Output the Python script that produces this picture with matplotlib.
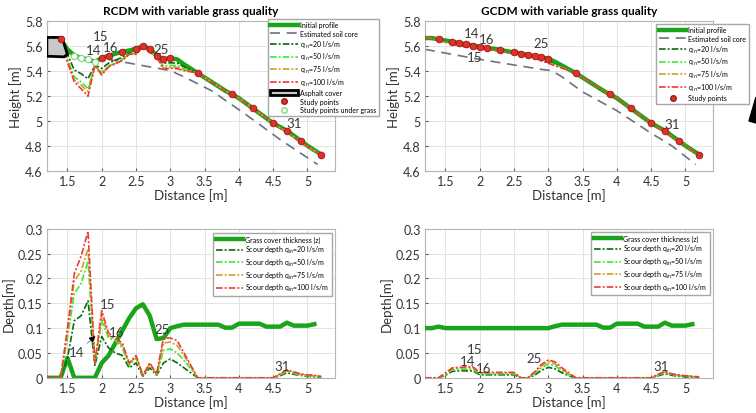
import numpy as np
import matplotlib.pyplot as plt
from matplotlib.patches import Patch, Polygon
from matplotlib.lines import Line2D
from matplotlib.ticker import FuncFormatter

plt.rcParams['font.family'] = ['Lato', 'DejaVu Sans']

# distance along the profile [m]
dist = [1.2, 1.3, 1.4, 1.5, 1.6, 1.7, 1.8, 1.9, 2.0, 2.1, 2.2, 2.3, 2.4, 2.5,
        2.6, 2.7, 2.8, 2.9, 3.0, 3.1, 3.2, 3.3, 3.4, 3.5, 3.6, 3.7, 3.8, 3.9,
        4.0, 4.1, 4.2, 4.3, 4.4, 4.5, 4.6, 4.7, 4.8, 4.9, 5.0, 5.1, 5.2]

# ---- RCDM ----
h0_rcdm = [5.665, 5.665, 5.65, 5.57, 5.52, 5.50, 5.49, 5.47, 5.50, 5.52, 5.535,
           5.55, 5.56, 5.575, 5.595, 5.575, 5.52, 5.49, 5.50, 5.49, 5.45, 5.415,
           5.38, 5.345, 5.31, 5.275, 5.24, 5.21, 5.18, 5.14, 5.10, 5.06, 5.02,
           4.98, 4.95, 4.92, 4.88, 4.84, 4.80, 4.765, 4.73]
grass_rcdm = [0, 0, 0, 0.04, 0, 0, 0, 0, 0.03, 0.045, 0.07, 0.095, 0.12, 0.14,
              0.148, 0.125, 0.078, 0.08, 0.10, 0.104, 0.107, 0.107, 0.107, 0.107,
              0.107, 0.107, 0.101, 0.101, 0.109, 0.109, 0.109, 0.109, 0.103,
              0.103, 0.103, 0.111, 0.105, 0.105, 0.105, 0.108, np.nan]
scour_rcdm_20 = [0, 0, 0, 0.04, 0.115, 0.125, 0.155, 0.025, 0.083, 0.06, 0.05,
                 0.045, 0.02, 0.03, 0.003, 0.02, 0.005, 0.03, 0.038, 0.03, 0.02,
                 0.01, 0, 0, 0, 0, 0, 0, 0, 0, 0, 0, 0, 0,
                 0.004, 0.01, 0.007, 0.005, 0.003, 0.002, 0.001]
scour_rcdm_50 = [0, 0, 0, 0.08, 0.17, 0.19, 0.235, 0.03, 0.115, 0.08, 0.075,
                 0.06, 0.025, 0.04, 0.004, 0.027, 0.006, 0.055, 0.058, 0.05,
                 0.035, 0.018, 0, 0, 0, 0, 0, 0, 0, 0, 0, 0, 0, 0,
                 0.006, 0.012, 0.009, 0.006, 0.004, 0.003, 0.002]
scour_rcdm_75 = [0, 0, 0, 0.09, 0.195, 0.215, 0.26, 0.03, 0.125, 0.085, 0.078,
                 0.065, 0.028, 0.043, 0.005, 0.028, 0.007, 0.07, 0.072, 0.065,
                 0.045, 0.022, 0, 0, 0, 0, 0, 0, 0, 0, 0, 0, 0, 0,
                 0.007, 0.014, 0.01, 0.007, 0.005, 0.004, 0.003]
scour_rcdm_100 = [0, 0, 0, 0.1, 0.21, 0.245, 0.295, 0.03, 0.135, 0.09, 0.08,
                  0.07, 0.03, 0.045, 0.005, 0.03, 0.008, 0.08, 0.08, 0.075,
                  0.05, 0.025, 0, 0, 0, 0, 0, 0, 0, 0, 0, 0, 0, 0,
                  0.008, 0.016, 0.012, 0.008, 0.006, 0.005, 0.003]
core_rcdm_x = [2.1, 2.8, 3.0, 3.2, 3.6, 4.1, 4.6, 5.15]
core_rcdm_y = [5.49, 5.42, 5.40, 5.35, 5.24, 5.05, 4.85, 4.65]
asphalt_x = [1.2, 1.42, 1.5, 1.45, 1.2]
asphalt_y = [5.665, 5.665, 5.53, 5.51, 5.515]
study_rcdm = [1.4, 2.0, 2.1, 2.3, 2.5, 2.6, 2.7, 2.8, 2.9, 3.0, 3.4, 3.9, 4.2,
              4.5, 4.7, 4.9, 5.2]
under_grass_rcdm = [1.6, 1.7, 1.8, 1.9]

# ---- GCDM ----
h0_gcdm = [5.66, 5.66, 5.65, 5.64, 5.63, 5.62, 5.61, 5.60, 5.59, 5.58, 5.575,
           5.565, 5.555, 5.545, 5.535, 5.525, 5.515, 5.505, 5.495, 5.47, 5.44,
           5.41, 5.38, 5.345, 5.31, 5.275, 5.24, 5.21, 5.18, 5.14, 5.10, 5.06,
           5.02, 4.98, 4.95, 4.92, 4.88, 4.84, 4.80, 4.765, 4.73]
grass_gcdm = [0.1, 0.1, 0.103, 0.1, 0.1, 0.1, 0.1, 0.1, 0.1, 0.1, 0.1, 0.1, 0.1,
              0.1, 0.1, 0.1, 0.1, 0.1, 0.1, 0.104, 0.107, 0.107, 0.107, 0.107,
              0.107, 0.107, 0.101, 0.101, 0.109, 0.109, 0.109, 0.109, 0.103,
              0.103, 0.103, 0.111, 0.105, 0.105, 0.105, 0.108, np.nan]
scour_gcdm_20 = [0, 0, 0, 0.005, 0.013, 0.014, 0.014, 0.014, 0.006, 0.006, 0.006,
                 0.006, 0.006, 0.006, 0, 0, 0.005, 0.015, 0.021, 0.018, 0.01,
                 0.004, 0, 0, 0, 0, 0, 0, 0, 0, 0, 0, 0, 0,
                 0.004, 0.008, 0.005, 0.003, 0.002, 0.001, 0]
scour_gcdm_50 = [0, 0, 0, 0.007, 0.016, 0.017, 0.017, 0.017, 0.008, 0.008, 0.008,
                 0.008, 0.008, 0.008, 0, 0, 0.008, 0.02, 0.028, 0.024, 0.014,
                 0.006, 0, 0, 0, 0, 0, 0, 0, 0, 0, 0, 0, 0,
                 0.005, 0.01, 0.006, 0.004, 0.003, 0.002, 0.001]
scour_gcdm_75 = [0, 0, 0, 0.009, 0.019, 0.02, 0.02, 0.02, 0.01, 0.01, 0.01,
                 0.01, 0.01, 0.01, 0, 0, 0.01, 0.024, 0.033, 0.028, 0.017,
                 0.008, 0, 0, 0, 0, 0, 0, 0, 0, 0, 0, 0, 0,
                 0.006, 0.012, 0.007, 0.005, 0.004, 0.003, 0.001]
scour_gcdm_100 = [0, 0, 0, 0.01, 0.02, 0.021, 0.022, 0.022, 0.011, 0.011, 0.011,
                  0.011, 0.011, 0.011, 0, 0, 0.012, 0.027, 0.036, 0.032, 0.02,
                  0.01, 0, 0, 0, 0, 0, 0, 0, 0, 0, 0, 0, 0,
                  0.007, 0.013, 0.008, 0.006, 0.004, 0.003, 0.002]
core_gcdm_x = [1.2, 1.8, 2.0, 2.5, 2.9, 3.05, 3.2, 3.5, 4.0, 4.5, 4.8, 5.15]
core_gcdm_y = [5.57, 5.51, 5.49, 5.445, 5.41, 5.40, 5.35, 5.23, 5.08, 4.90, 4.80, 4.65]
study_gcdm = [1.4, 1.6, 1.7, 1.8, 1.9, 2.0, 2.1, 2.3, 2.5, 2.6, 2.7, 2.8, 2.9,
              3.0, 3.4, 3.9, 4.2, 4.5, 4.7, 4.9, 5.2]

flows = [20, 50, 75, 100]
q_colors = ['#0b6b0b', '#3de83d', '#d0a020', '#f03a3a']
q_style = (0, (4, 1.2, 1.2, 1.2))
c_init = '#19a519'
c_core = '#6e7280'

x = np.array(dist)
fmt = FuncFormatter(lambda v, p: f'{v:g}')


def style(ax, ylim, yticks):
    ax.set_xlim(1.2, 5.4)
    ax.set_ylim(*ylim)
    ax.set_xticks([1.5, 2, 2.5, 3, 3.5, 4, 4.5, 5])
    ax.set_yticks(yticks)
    ax.xaxis.set_major_formatter(fmt)
    ax.yaxis.set_major_formatter(fmt)
    ax.grid(True, color='#e3e3e3', lw=0.7)
    ax.set_axisbelow(True)
    ax.tick_params(direction='in', length=2, labelsize=9, colors='#555555',
                   labelcolor='#333333', pad=3)
    for s in ax.spines.values():
        s.set_color('#b5b5b5')
        s.set_linewidth(0.8)
    ax.set_xlabel('Distance [m]', fontsize=9.5, color='#333333', labelpad=1)


def mark(ax, x0, y0, txt):
    ax.text(x0, y0, txt, fontsize=9.5, color='#3a3a3a', ha='center', va='center',
            zorder=8)


def profile_panel(ax, h0, scours, start, core_x, core_y, study, title):
    h0 = np.array(h0)
    ax.plot(x[start:], h0[start:], color=c_init, lw=3.2, zorder=3)
    ax.plot(core_x, core_y, color=c_core, lw=1.2, ls=(0, (6, 4)), zorder=2)
    for sc, col in zip(scours, q_colors):
        ax.plot(x[start:], (h0 - np.array(sc))[start:], color=col, lw=1.2,
                ls=q_style, zorder=4)
    sel = np.isin(x, study)
    ax.plot(x[sel], h0[sel], 'o', ms=4.8, color='#e0302a', mec='#a01818',
            mew=0.6, zorder=6)
    style(ax, (4.6, 5.8), [4.6, 4.8, 5, 5.2, 5.4, 5.6, 5.8])
    ax.set_ylabel('Height [m]', fontsize=9.5, color='#333333', labelpad=2)
    ax.set_title(title, fontsize=8.5, fontweight='bold', pad=5)


def depth_panel(ax, grass, scours):
    g = np.array(grass, dtype=float)
    ax.plot(x, g, color=c_init, lw=3.2, zorder=3)
    for sc, col in zip(scours, q_colors):
        ax.plot(x, sc, color=col, lw=1.2, ls=q_style, zorder=4)
    style(ax, (0, 0.3), [0, 0.05, 0.1, 0.15, 0.2, 0.25, 0.3])
    ax.set_ylabel('Depth[m]', fontsize=9.5, color='#333333', labelpad=2)


fig = plt.figure(figsize=(7.56, 4.14), dpi=100)
ax1 = fig.add_axes([0.062, 0.585, 0.381, 0.363])
ax2 = fig.add_axes([0.562, 0.585, 0.381, 0.363])
ax3 = fig.add_axes([0.062, 0.085, 0.381, 0.36])
ax4 = fig.add_axes([0.562, 0.085, 0.381, 0.36])

# RCDM height profile with the asphalt cover at the crest
profile_panel(ax1, h0_rcdm, [scour_rcdm_20, scour_rcdm_50, scour_rcdm_75,
              scour_rcdm_100], 2, core_rcdm_x, core_rcdm_y, study_rcdm,
              'RCDM with variable grass quality')
ax1.fill(asphalt_x, asphalt_y, facecolor='#c8c8c8', edgecolor='black', lw=2,
         zorder=5)
ug = np.isin(x, under_grass_rcdm)
ax1.plot(x[ug], np.array(h0_rcdm)[ug], 'o', ms=4.5, mfc='white', mec='#7ed87e',
         mew=0.8, zorder=6)
mark(ax1, 1.99, 5.68, '15')
mark(ax1, 1.88, 5.565, '14')
mark(ax1, 2.13, 5.59, '16')
mark(ax1, 2.87, 5.57, '25')
mark(ax1, 4.80, 4.98, '31')

# GCDM height profile
profile_panel(ax2, h0_gcdm, [scour_gcdm_20, scour_gcdm_50, scour_gcdm_75,
              scour_gcdm_100], 0, core_gcdm_x, core_gcdm_y, study_gcdm,
              'GCDM with variable grass quality')
mark(ax2, 1.88, 5.70, '14')
mark(ax2, 2.10, 5.65, '16')
mark(ax2, 1.93, 5.51, '15')
mark(ax2, 2.89, 5.62, '25')
mark(ax2, 4.80, 4.97, '31')

# scour depths against grass cover thickness
depth_panel(ax3, grass_rcdm, [scour_rcdm_20, scour_rcdm_50, scour_rcdm_75,
            scour_rcdm_100])
mark(ax3, 2.09, 0.149, '15')
mark(ax3, 2.21, 0.093, '16')
mark(ax3, 2.88, 0.099, '25')
mark(ax3, 4.63, 0.023, '31')
# pointer from label 14 to its point
ax3.annotate('14', xy=(1.86, 0.078), xytext=(1.64, 0.052), fontsize=9.5,
             color='#3a3a3a', ha='center', va='center', zorder=9,
             arrowprops=dict(arrowstyle='-', color='#8aa2c4', lw=0.9,
                             shrinkA=5, shrinkB=0))
ax3.annotate('', xy=(1.91, 0.084), xytext=(1.85, 0.077), zorder=9,
             arrowprops=dict(arrowstyle='-|>', color='black', lw=0.7,
                             shrinkA=0, shrinkB=0, mutation_scale=9))

depth_panel(ax4, grass_gcdm, [scour_gcdm_20, scour_gcdm_50, scour_gcdm_75,
            scour_gcdm_100])
mark(ax4, 1.92, 0.058, '15')
mark(ax4, 1.82, 0.033, '14')
mark(ax4, 2.06, 0.019, '16')
mark(ax4, 2.79, 0.04, '25')
mark(ax4, 4.65, 0.024, '31')

# legends
q_lbl = [f'q$_{{in}}$={q} l/s/m' for q in flows]
init_h = Line2D([], [], color=c_init, lw=3.2)
core_h = Line2D([], [], color=c_core, lw=1.2, ls=(0, (6, 4)))
q_h = [Line2D([], [], color=c, lw=1.2, ls=q_style) for c in q_colors]
asph_h = Patch(facecolor='#c8c8c8', edgecolor='black', lw=2)
pt_h = Line2D([], [], ls='none', marker='o', ms=4, color='#e0302a', mec='#a01818')
ug_h = Line2D([], [], ls='none', marker='o', ms=4, mfc='white', mec='#7ed87e')
grass_h = Line2D([], [], color=c_init, lw=3.2)

leg_kw = dict(fontsize=5, loc='upper left', bbox_transform=fig.transFigure,
              fancybox=False, framealpha=1, edgecolor='#a8a8a8',
              handlelength=4, labelspacing=0.22, borderpad=0.35,
              handletextpad=0.3, borderaxespad=0)

l1 = ax1.legend([init_h, core_h] + q_h + [asph_h, pt_h, ug_h],
                ['Initial profile', 'Estimated soil core'] + q_lbl +
                ['Asphalt cover', 'Study points', 'Study points under grass'],
                bbox_to_anchor=(0.354, 0.952), **leg_kw)
l1.set_zorder(10)
l2 = ax2.legend([init_h, core_h] + q_h + [pt_h],
                ['Initial profile', 'Estimated soil core'] + q_lbl + ['Study points'],
                bbox_to_anchor=(0.868, 0.94), **leg_kw)
l2.set_zorder(10)
s_lbl = ['Grass cover thickness (z)'] + [f'Scour depth q$_{{in}}$={q} l/s/m'
                                         for q in flows]
ax3.legend([grass_h] + q_h, s_lbl, bbox_to_anchor=(0.282, 0.435), **leg_kw)
ax4.legend([grass_h] + q_h, s_lbl, bbox_to_anchor=(0.782, 0.437), **leg_kw)

# arrow tip clipped at the right edge
fig.add_artist(Polygon([[749 / 756, 1 - 122 / 414], [1.0, 1 - 98 / 414],
                        [1.0, 1 - 124 / 414]], closed=True,
                       transform=fig.transFigure, color='black'))

fig.savefig('out.png', dpi=100)
